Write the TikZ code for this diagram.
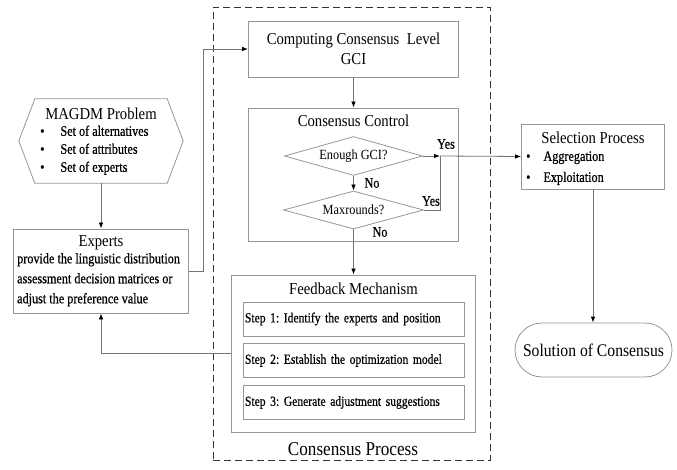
\documentclass[tikz,border=0pt]{standalone}
\usepackage{fontspec}
\setmainfont[FakeStretch=0.88]{Liberation Serif}
\newfontfamily\itemfamily[FakeStretch=0.84, FakeBold=0.6]{Liberation Serif}
\usepackage{tikz}
\usetikzlibrary{arrows.meta, positioning, shapes.geometric, calc}
\definecolor{linecolor}{RGB}{115, 115, 115}
\definecolor{edgecolor}{RGB}{150, 150, 150}
\newcommand{\headsize}{\fontsize{16.7}{20}\selectfont}
\newcommand{\bodysize}{\fontsize{14}{20}\selectfont}
\newcommand{\itemsize}{\itemfamily\fontsize{14.5}{20}\selectfont}
\frenchspacing

\begin{document}
\begin{tikzpicture}[x=1pt, y=-1pt,
  box/.style={draw=edgecolor, line width=0.8pt, inner sep=0pt},
  stepbox/.style={box, minimum width=221pt, minimum height=34pt, text width=217pt, align=left, inner xsep=2pt, font=\itemfamily\fontsize{13.8}{20}\selectfont},
  decision/.style={diamond, draw=edgecolor, line width=0.8pt, inner sep=0pt, aspect=3.5, font=\bodysize},
  arrowline/.style={draw=linecolor, line width=0.8pt, -{Latex[length=6pt, width=4.5pt, color=black]}},
  plainline/.style={draw=linecolor, line width=0.8pt},
  note/.style={font=\itemsize, inner sep=1pt}]
\useasboundingbox (0,0) rectangle (677,470);

\node[draw=black!80, dash pattern=on 7pt off 4pt, line width=0.8pt, minimum width=277pt, minimum height=453pt, inner sep=0pt] (process) at (351.5,233.5) {};
\node[font=\fontsize{19.5}{20}\selectfont] (processtitle) at (353,449) {Consensus Process};

\node[box, minimum width=210pt, minimum height=56pt, align=center, font=\headsize] (gci) at (353.5,49) {Computing Consensus\ \ Level\\GCI};

\node[box, minimum width=210pt, minimum height=133pt] (control) at (353.5,174.5) {};
\node[font=\headsize] (controltitle) at (353.5,121) {Consensus Control};
\node[decision, minimum width=138pt, minimum height=39pt] (enough) at (353.5,156) {Enough GCI?};
\node[decision, minimum width=140pt, minimum height=38pt] (maxrounds) at (353.5,210) {Maxrounds?};
\node[note] (noupper) at (372,183) {No};
\node[note] (nolower) at (380,232) {No};
\node[note] (yesupper) at (446,144) {Yes};
\node[note] (yeslower) at (431,201) {Yes};
\coordinate (yesjoin) at (440,156);

\node[box, minimum width=244pt, minimum height=157pt] (feedback) at (353.5,353.5) {};
\node[font=\headsize] (feedbacktitle) at (353.5,289) {Feedback Mechanism};
\node[stepbox] (step1) at (353.5,319) {Step 1: Identify the experts and position};
\node[stepbox] (step2) at (353.5,360.5) {Step 2: Establish the optimization model};
\node[stepbox] (step3) at (353.5,402.5) {Step 3: Generate adjustment suggestions};

\node[minimum width=164pt, minimum height=84pt, inner sep=0pt] (magdm) at (101,141) {};
\draw[draw=edgecolor, line width=0.8pt] ([xshift=16pt]magdm.north west) -- ([xshift=-16pt]magdm.north east) -- (magdm.east)
  -- ([xshift=-16pt]magdm.south east) -- ([xshift=16pt]magdm.south west) -- (magdm.west) -- cycle;
\node[font=\headsize] (magdmtitle) at (101,114) {MAGDM Problem};
\node[font=\itemfamily\fontsize{14.5}{18}\selectfont, anchor=north west, inner sep=0pt] (magdmlist) at (40,123) {
    \begin{tabular}{@{}l@{\hspace{16pt}}l@{}}
    \textbullet & Set of alternatives \\
    \textbullet & Set of attributes \\
    \textbullet & Set of experts \\
    \end{tabular}
};

\node[box, minimum width=175pt, minimum height=84pt] (experts) at (101,271) {};
\node[font=\headsize] (expertstitle) at (101,243) {Experts};
\node[font=\itemsize, align=left, anchor=north west, inner sep=0pt] (expertstext) at (17,253) {provide the linguistic distribution\\assessment decision matrices or\\adjust the preference value};

\node[box, minimum width=143pt, minimum height=65pt] (selection) at (593,156.5) {};
\node[font=\headsize] (selectiontitle) at (593,138) {Selection Process};
\node[font=\itemfamily\fontsize{14.5}{21}\selectfont, anchor=north west, inner sep=0pt] (selectionlist) at (526,146) {
    \begin{tabular}{@{}l@{\hspace{13pt}}l@{}}
    \textbullet & Aggregation \\
    \textbullet & Exploitation \\
    \end{tabular}
};
\node[draw=edgecolor, line width=0.8pt, rounded corners=27pt, minimum width=157pt, minimum height=54pt, font=\fontsize{17.8}{18}\selectfont] (solution) at (593.5,350) {Solution of Consensus};

\draw[arrowline] (magdm.south) -- (experts.north);
\draw[arrowline] (experts.east) -- ++(14,0) |- (gci.west);
\draw[arrowline] (gci.south) -- (control.north);
\draw[arrowline] (enough.south) -- (maxrounds.north);
\draw[arrowline] (enough.east) -- (yesjoin);
\draw[plainline] (maxrounds.east) -| (yesjoin);
\draw[arrowline] (yesjoin) -- (selection.west);
\draw[arrowline] (maxrounds.south) -- (feedback.north);
\draw[arrowline] (feedback.west) -| (experts.south);
\draw[arrowline] (selection.south) -- (selection.south |- solution.north);
\end{tikzpicture}
\end{document}
